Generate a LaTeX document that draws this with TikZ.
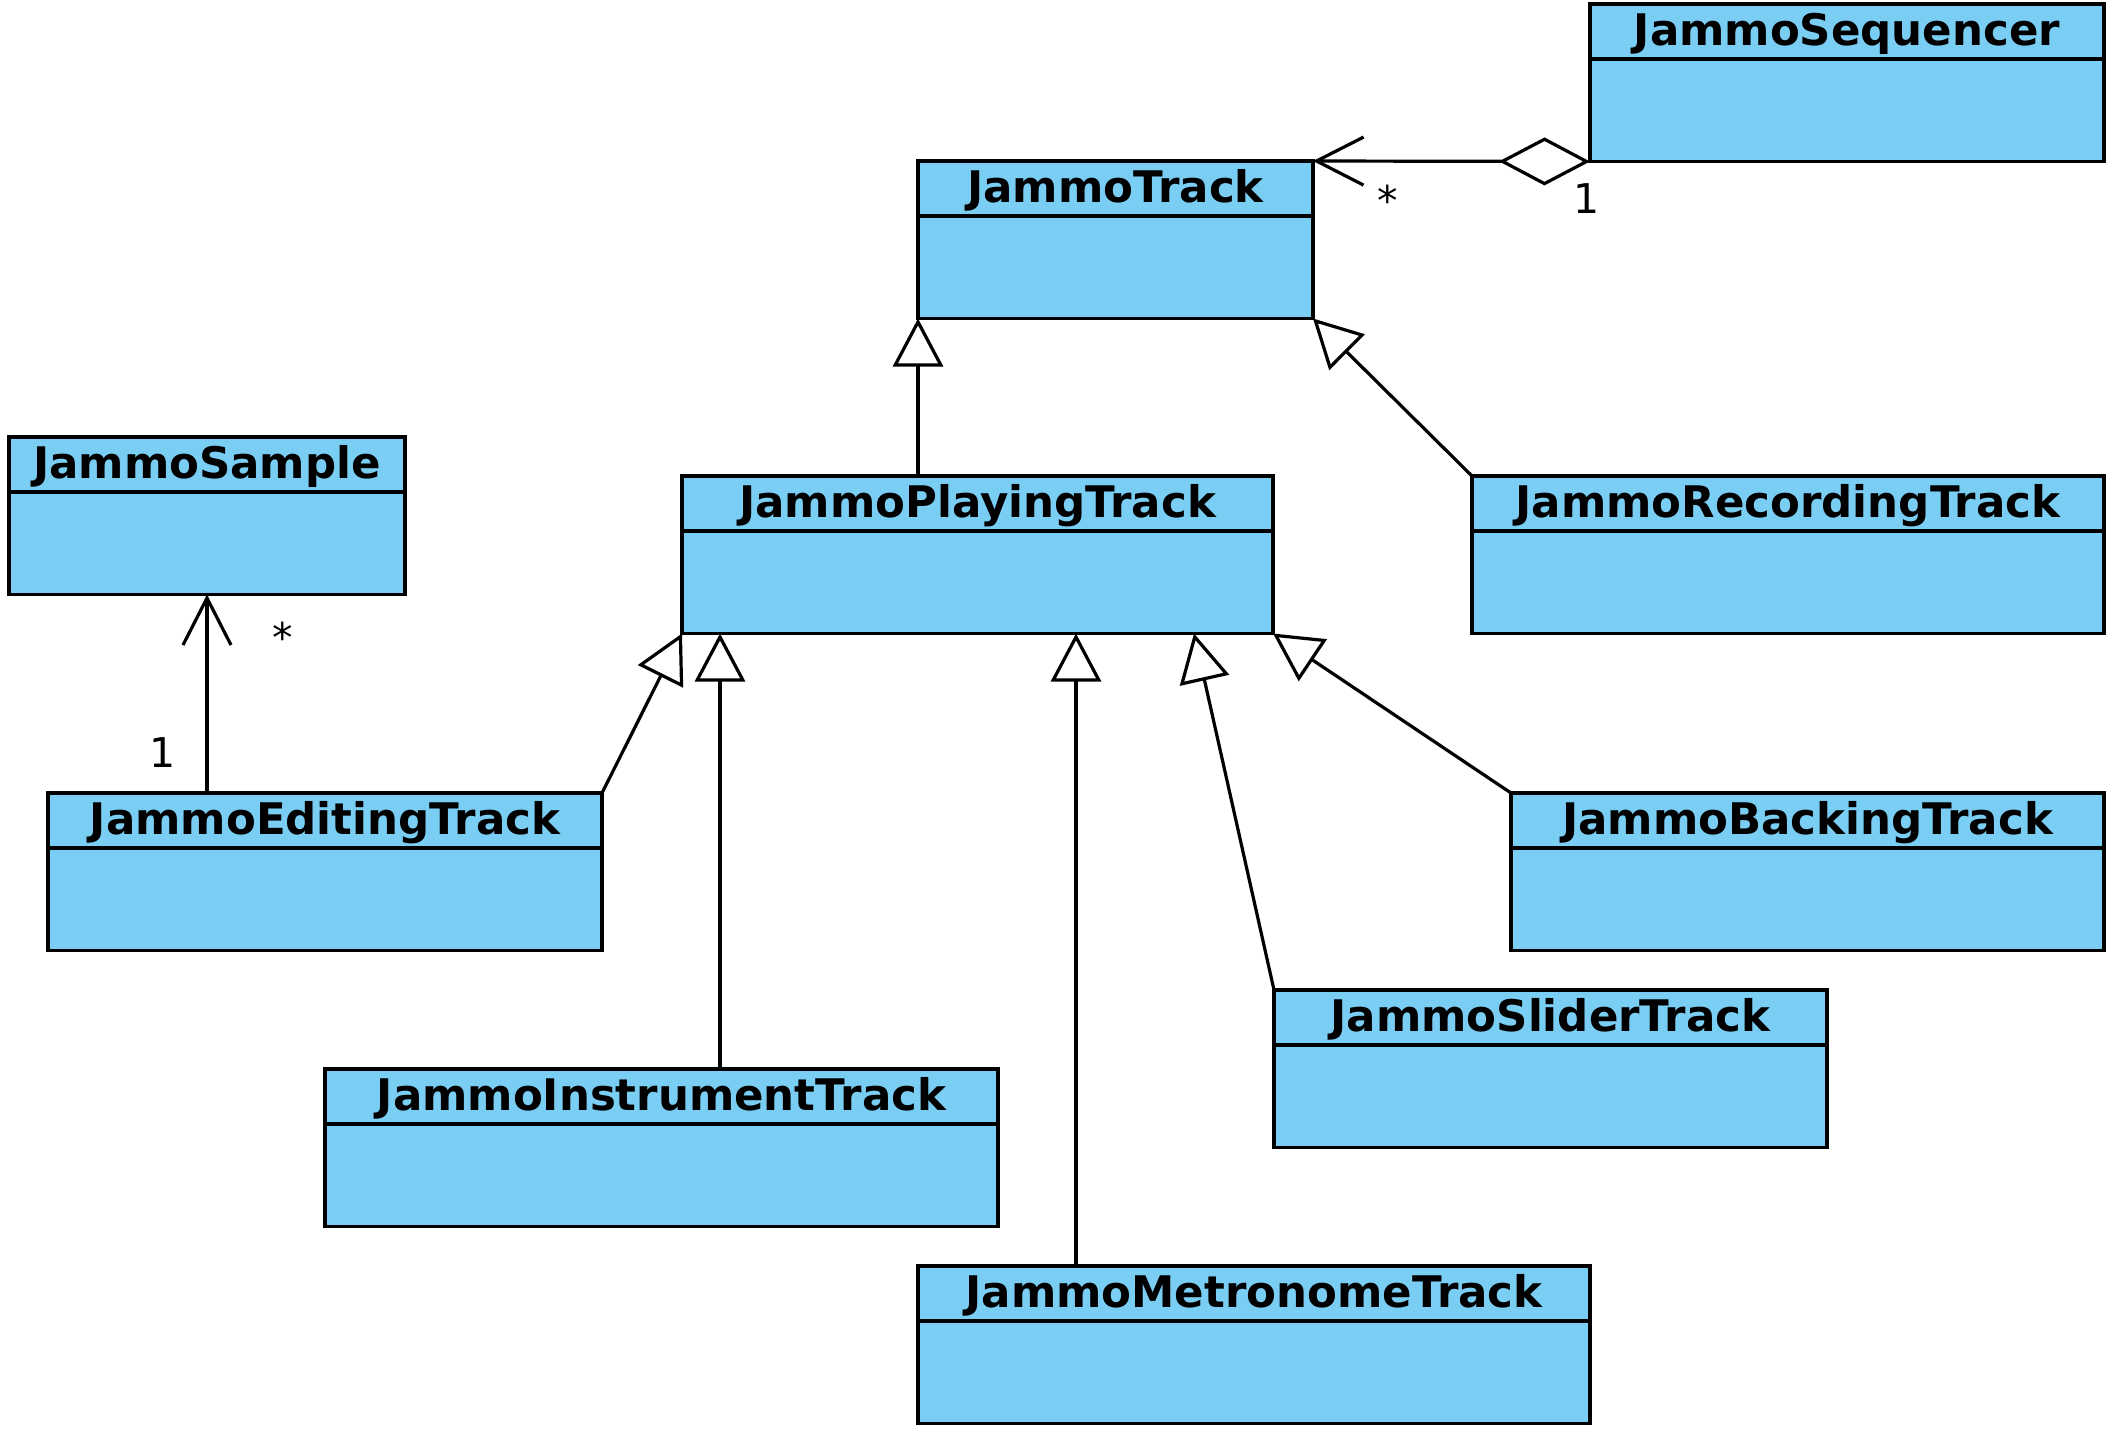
\documentclass[tikz,border=0pt]{standalone}
\usepackage{fontspec}
\setmainfont{DejaVu Sans}
\usetikzlibrary{arrows.meta,calc}
\definecolor{clsblue}{RGB}{122,206,244}
\newcommand\umlclass[5]{%
  \node[cls, minimum width=#4] (#1) at (#2,#3) {};
  \node[ttl] (#1-title) at ([yshift=-20.5pt]#1.north) {#5};
  \draw[divider] ([yshift=-27.5pt]#1.north west) -- ([yshift=-27.5pt]#1.north east);}
\begin{document}
\begin{tikzpicture}[x=0.5pt,y=-0.5pt,
  cls/.style={draw=black, line width=1.7pt, fill=clsblue, inner sep=0pt, outer sep=0pt,
    anchor=north west, minimum height=78.75pt},
  ttl/.style={anchor=base, inner sep=0pt, font=\fontsize{21.75pt}{26pt}\selectfont\bfseries},
  divider/.style={line width=1.7pt},
  conn/.style={line width=1.6pt},
  gen/.style={conn, -{Triangle[open, length=24pt, width=25pt]}},
  nav/.style={conn, -{Straight Barb[length=23.5pt, width=24pt]}},
  assoc/.style={conn, {Diamond[open, length=45.5pt, width=24pt]}-{Straight Barb[length=23.5pt, width=24pt]}},
  mult/.style={anchor=base, inner sep=0pt, font=\fontsize{20.5pt}{24pt}\selectfont}]
\useasboundingbox (0,0) rectangle (2108,1430);

\umlclass{seq}{1590}{4}{257pt}{JammoSequencer}
\umlclass{track}{918}{161}{197.5pt}{JammoTrack}
\umlclass{sample}{9}{437}{198pt}{JammoSample}
\umlclass{playing}{682}{476}{295.5pt}{JammoPlayingTrack}
\umlclass{recording}{1472}{476}{316pt}{JammoRecordingTrack}
\umlclass{editing}{48}{793}{277pt}{JammoEditingTrack}
\umlclass{backing}{1511}{793}{296.5pt}{JammoBackingTrack}
\umlclass{slider}{1274}{990}{276.5pt}{JammoSliderTrack}
\umlclass{instrument}{325}{1069}{336.5pt}{JammoInstrumentTrack}
\umlclass{metronome}{918}{1266}{336pt}{JammoMetronomeTrack}

\coordinate (xInst) at (720,0);
\coordinate (xMet) at (1076,0);
\coordinate (xSld) at (1194,0);

\draw[assoc] (seq.south west) -- (track.north east);
\draw[gen] (playing.north -| track.south west) -- (track.south west);
\draw[gen] (recording.north west) -- (track.south east);
\draw[gen] (editing.north east) -- (playing.south west);
\draw[gen] (instrument.north -| xInst) -- (playing.south -| xInst);
\draw[gen] (metronome.north -| xMet) -- (playing.south -| xMet);
\draw[gen] (slider.north west) -- (playing.south -| xSld);
\draw[gen] (backing.north west) -- (playing.south east);
\draw[nav] (editing.north -| sample.south) -- (sample.south);

\node[mult] (m1) at (1388,215) {*};
\node[mult] (m2) at (1587,213) {1};
\node[mult] (m3) at (283,652) {*};
\node[mult] (m4) at (163,767) {1};
\end{tikzpicture}
\end{document}
